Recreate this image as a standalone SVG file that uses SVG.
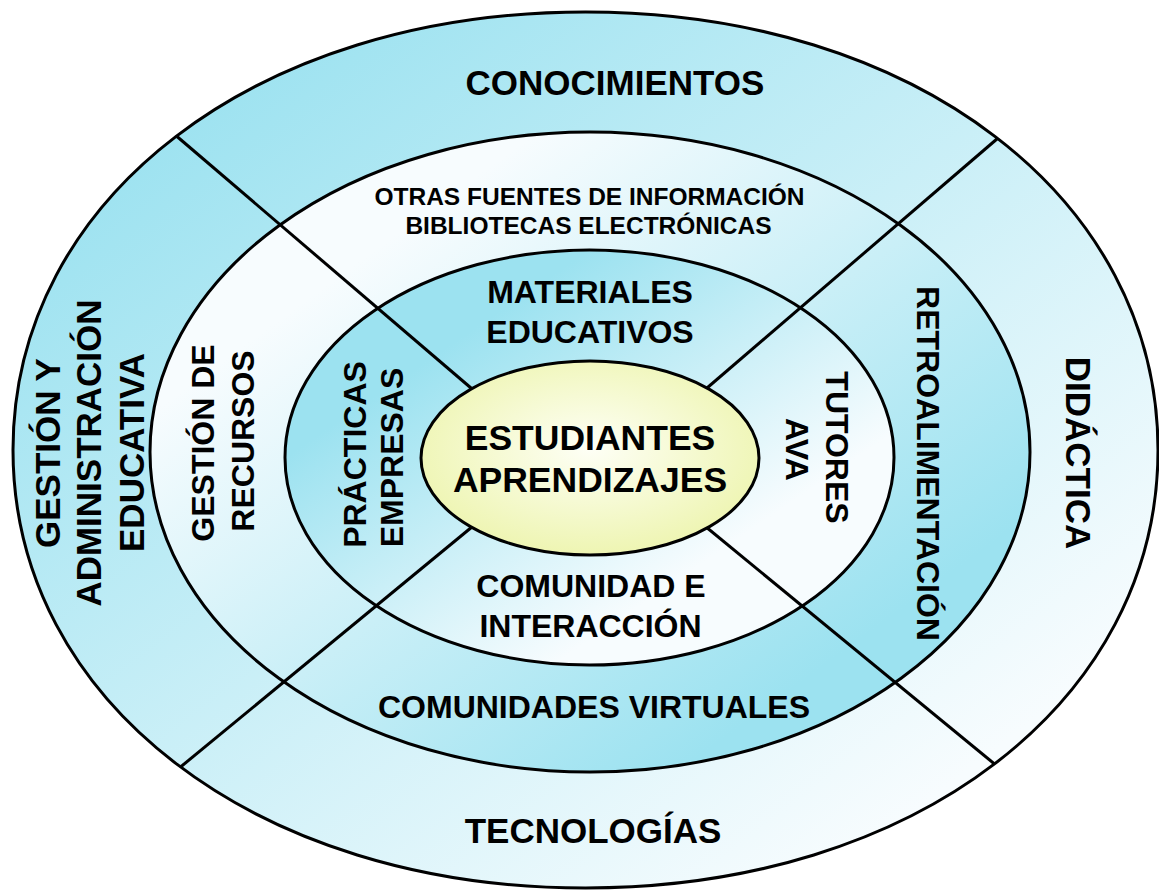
<svg xmlns="http://www.w3.org/2000/svg" width="1159" height="890" viewBox="0 0 1159 890">
<style>
.lbl{font-family:"Liberation Sans",Arial,Helvetica,sans-serif;font-weight:bold;fill:#000;text-anchor:middle}
.f35{font-size:35px}
.f32{font-size:32px}
.f24{font-size:24.5px}
.ring{stroke:#000;stroke-width:3}
.divider{stroke:#000;stroke-width:3;fill:none;stroke-linecap:butt}
</style>
<defs>
<linearGradient id="gOuter" x1="0" y1="0" x2="1" y2="1">
<stop offset="0.12" stop-color="#9ce2f0"/>
<stop offset="0.85" stop-color="#f7fcfe"/>
</linearGradient>
<linearGradient id="gRing2" x1="0" y1="0" x2="1" y2="1">
<stop offset="0.22" stop-color="#f7fcfe"/>
<stop offset="0.8" stop-color="#9ce2f0"/>
</linearGradient>
<linearGradient id="gRing3" x1="0" y1="0" x2="1" y2="1">
<stop offset="0.25" stop-color="#9ce2f0"/>
<stop offset="0.72" stop-color="#f7fcfe"/>
</linearGradient>
<radialGradient id="gCore" cx="0.5" cy="0.45" r="0.55">
<stop offset="0" stop-color="#fefff6"/>
<stop offset="1" stop-color="#eef5b2"/>
</radialGradient>
</defs>

<g id="rings">
<path id="ring-outer" class="ring" fill="url(#gOuter)" d="M1158,450 C1158,198.2 914.7,12 585.5,12 C256.3,12 13,198.2 13,450 C13,701.8 256.3,888 585.5,888 C914.7,888 1158,701.8 1158,450 Z"/>
<ellipse id="ring-middle" class="ring" cx="590" cy="452" rx="440" ry="320" fill="url(#gRing2)"/>
<ellipse id="ring-inner" class="ring" cx="589.5" cy="457.5" rx="304.5" ry="207.5" fill="url(#gRing3)"/>
</g>

<g id="connectors">
<line class="divider" x1="177" y1="136.5" x2="478" y2="394"/>
<line class="divider" x1="997.5" y1="138.5" x2="700" y2="394"/>
<line class="divider" x1="180.5" y1="767" x2="478" y2="522"/>
<line class="divider" x1="994.5" y1="764" x2="700" y2="522"/>
</g>

<g id="node-estudiantes">
<ellipse class="ring" cx="590" cy="458" rx="169" ry="97" fill="url(#gCore)"/>
<text class="lbl" style="font-size:35.5px" x="590" y="450">ESTUDIANTES</text>
<text class="lbl" style="font-size:35.5px" x="590" y="492">APRENDIZAJES</text>
</g>

<g id="node-conocimientos">
<text class="lbl f35" x="615" y="95">CONOCIMIENTOS</text>
</g>
<g id="node-tecnologias">
<text class="lbl f35" x="593" y="843">TECNOLOGÍAS</text>
</g>
<g id="node-gestion-administracion">
<text class="lbl f35" transform="translate(59.5,453) rotate(-90)">GESTIÓN Y</text>
<text class="lbl f35" transform="translate(101,453) rotate(-90)">ADMINISTRACIÓN</text>
<text class="lbl f35" transform="translate(143.5,452.5) rotate(-90)">EDUCATIVA</text>
</g>
<g id="node-didactica">
<text class="lbl f35" transform="translate(1066,453) rotate(90)">DIDÁCTICA</text>
</g>

<g id="node-otras-fuentes">
<text class="lbl f24" x="589.5" y="205">OTRAS FUENTES DE INFORMACIÓN</text>
<text class="lbl f24" x="588.5" y="234">BIBLIOTECAS ELECTRÓNICAS</text>
</g>
<g id="node-gestion-recursos">
<text class="lbl f32" transform="translate(213.5,443) rotate(-90)">GESTIÓN DE</text>
<text class="lbl f32" transform="translate(253.5,441) rotate(-90)">RECURSOS</text>
</g>
<g id="node-retroalimentacion">
<text class="lbl f32" transform="translate(917,463.5) rotate(90)">RETROALIMENTACIÓN</text>
</g>
<g id="node-comunidades-virtuales">
<text class="lbl f32" x="594" y="718">COMUNIDADES VIRTUALES</text>
</g>

<g id="node-materiales">
<text class="lbl f32" x="590" y="303">MATERIALES</text>
<text class="lbl f32" x="590" y="343">EDUCATIVOS</text>
</g>
<g id="node-practicas">
<text class="lbl f32" transform="translate(365.5,454.5) rotate(-90)">PRÁCTICAS</text>
<text class="lbl f32" transform="translate(403,457.5) rotate(-90)">EMPRESAS</text>
</g>
<g id="node-tutores">
<text class="lbl f32" transform="translate(825.5,447.5) rotate(90)">TUTORES</text>
<text class="lbl f32" transform="translate(785.5,449.5) rotate(90)">AVA</text>
</g>
<g id="node-comunidad">
<text class="lbl f32" x="591" y="597">COMUNIDAD E</text>
<text class="lbl f32" x="590.5" y="637">INTERACCIÓN</text>
</g>
</svg>
